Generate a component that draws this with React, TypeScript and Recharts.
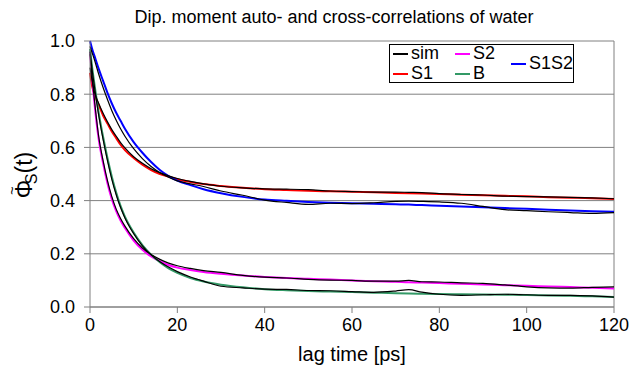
import { LineChart, Line, XAxis, YAxis, CartesianGrid, ReferenceLine, Label } from "recharts";

const lagTime = [0, 0.5, 1, 2, 3, 4, 5, 6, 7, 8, 10, 12, 14, 16, 18, 20, 23, 26, 30, 35, 40, 45, 50, 55, 60, 65, 70, 73, 76, 80, 85, 90, 95, 100, 105, 110, 115, 120];

const s1 = [0.88, 0.83, 0.8, 0.76, 0.72, 0.69, 0.66, 0.635, 0.61, 0.59, 0.56, 0.535, 0.515, 0.5, 0.49, 0.48, 0.47, 0.462, 0.455, 0.448, 0.443, 0.44, 0.437, 0.435, 0.433, 0.431, 0.429, 0.428, 0.427, 0.425, 0.422, 0.42, 0.418, 0.416, 0.413, 0.411, 0.409, 0.406];
const s1s2 = [1.0, 0.97, 0.945, 0.895, 0.85, 0.805, 0.765, 0.73, 0.7, 0.67, 0.62, 0.58, 0.545, 0.515, 0.492, 0.475, 0.458, 0.443, 0.428, 0.414, 0.404, 0.399, 0.395, 0.392, 0.39, 0.388, 0.386, 0.385, 0.383, 0.381, 0.378, 0.375, 0.372, 0.369, 0.366, 0.363, 0.36, 0.358];
const s2 = [0.96, 0.86, 0.77, 0.63, 0.54, 0.465, 0.405, 0.36, 0.325, 0.297, 0.25, 0.215, 0.19, 0.172, 0.158, 0.148, 0.139, 0.132, 0.125, 0.118, 0.113, 0.109, 0.106, 0.103, 0.1, 0.097, 0.095, 0.093, 0.092, 0.09, 0.087, 0.085, 0.082, 0.08, 0.077, 0.075, 0.072, 0.07];
const b = [0.97, 0.9, 0.84, 0.73, 0.64, 0.56, 0.49, 0.43, 0.38, 0.34, 0.28, 0.233, 0.197, 0.168, 0.145, 0.128, 0.109, 0.096, 0.084, 0.074, 0.067, 0.063, 0.06, 0.058, 0.056, 0.054, 0.052, 0.051, 0.05, 0.049, 0.048, 0.047, 0.046, 0.045, 0.043, 0.042, 0.04, 0.038];

// simulated curves (black), one per model curve
const simS1 = [0.9, 0.85, 0.81, 0.765, 0.728, 0.696, 0.667, 0.642, 0.618, 0.598, 0.565, 0.54, 0.52, 0.505, 0.493, 0.483, 0.472, 0.463, 0.454, 0.448, 0.444, 0.443, 0.441, 0.436, 0.434, 0.432, 0.432, 0.431, 0.43, 0.426, 0.423, 0.421, 0.417, 0.415, 0.414, 0.412, 0.41, 0.407];
const simS1S2 = [0.98, 0.955, 0.93, 0.875, 0.825, 0.78, 0.738, 0.702, 0.67, 0.642, 0.595, 0.558, 0.528, 0.505, 0.488, 0.474, 0.463, 0.453, 0.436, 0.42, 0.402, 0.393, 0.386, 0.39, 0.389, 0.392, 0.397, 0.398, 0.397, 0.395, 0.39, 0.378, 0.366, 0.362, 0.358, 0.355, 0.352, 0.355];
const simS2 = [0.95, 0.86, 0.78, 0.64, 0.55, 0.475, 0.415, 0.368, 0.333, 0.304, 0.257, 0.222, 0.197, 0.179, 0.165, 0.155, 0.145, 0.137, 0.13, 0.119, 0.112, 0.109, 0.104, 0.101, 0.1, 0.097, 0.097, 0.1, 0.095, 0.094, 0.091, 0.089, 0.083, 0.076, 0.072, 0.071, 0.074, 0.076];
const simB = [0.96, 0.89, 0.83, 0.72, 0.63, 0.55, 0.48, 0.422, 0.374, 0.335, 0.276, 0.23, 0.196, 0.17, 0.15, 0.133, 0.113, 0.097, 0.078, 0.072, 0.067, 0.066, 0.062, 0.061, 0.058, 0.055, 0.06, 0.065, 0.056, 0.048, 0.044, 0.046, 0.048, 0.046, 0.044, 0.044, 0.042, 0.037];

const xTicks = [0, 20, 40, 60, 80, 100, 120];
const yTicks = [0, 0.2, 0.4, 0.6, 0.8, 1.0];

const data = lagTime.map((t, i) => ({
  t,
  s1: s1[i],
  s1s2: s1s2[i],
  s2: s2[i],
  b: b[i],
  simS1: simS1[i],
  simS1S2: simS1S2[i],
  simS2: simS2[i],
  simB: simB[i],
}));

const FONT = '"Liberation Sans", Arial, sans-serif';
const GRID = "#808080";

function LegendItem({ color, label }: { color: string; label: string }) {
  return (
    <div style={{ display: "flex", alignItems: "center", height: 20 }}>
      <div style={{ width: 15, height: 2, background: color, marginRight: 3 }} />
      <span>{label}</span>
    </div>
  );
}

function YLabel() {
  return (
    <text transform="translate(32,175) rotate(-90)" textAnchor="middle" fontSize={23} fill="#000" fontFamily={FONT}>
      {"\u03A6"}
      <tspan fontSize={15} dx={-15} dy={-15}>~</tspan>
      <tspan fontSize={16} dx={2} dy={20}>S</tspan>
      <tspan dy={-5}>(t)</tspan>
    </text>
  );
}

export default function App() {
  return (
    <div style={{ position: "absolute", left: 0, top: 0, width: 632, height: 377, background: "#fff", fontFamily: FONT }}>
      <div style={{ position: "absolute", left: 34, top: 7, width: 600, textAlign: "center", fontSize: 18, color: "#000" }}>
        Dip. moment auto- and cross-correlations of water
      </div>
      <LineChart width={632} height={377} data={data} margin={{ top: 41, right: 18, bottom: 40, left: 0 }}>
        <CartesianGrid vertical={false} stroke={GRID} strokeWidth={1} />
        <XAxis
          dataKey="t"
          type="number"
          domain={[0, 120]}
          ticks={xTicks}
          height={30}
          tick={{ fill: "#000", fontSize: 18, fontFamily: FONT }}
          tickSize={6}
          tickMargin={5}
          axisLine={{ stroke: GRID }}
          tickLine={{ stroke: GRID }}
        />
        <YAxis
          type="number"
          domain={[0, 1]}
          ticks={yTicks}
          width={90}
          tickFormatter={(v: number) => v.toFixed(1)}
          tick={{ fill: "#000", fontSize: 18, fontFamily: FONT }}
          tickSize={6}
          tickMargin={9}
          axisLine={{ stroke: GRID }}
          tickLine={{ stroke: GRID }}
        >
          <Label content={<YLabel />} />
        </YAxis>
        <ReferenceLine x={120} stroke={GRID} />
        <Line dataKey="s1" stroke="#ff0000" strokeWidth={2} dot={false} type="monotone" isAnimationActive={false} />
        <Line dataKey="s1s2" stroke="#0000ff" strokeWidth={2} dot={false} type="monotone" isAnimationActive={false} />
        <Line dataKey="s2" stroke="#ff00ff" strokeWidth={2} dot={false} type="monotone" isAnimationActive={false} />
        <Line dataKey="b" stroke="#339966" strokeWidth={2} dot={false} type="monotone" isAnimationActive={false} />
        <Line dataKey="simS1" stroke="#000" strokeWidth={1.2} dot={false} type="monotone" isAnimationActive={false} />
        <Line dataKey="simS1S2" stroke="#000" strokeWidth={1.2} dot={false} type="monotone" isAnimationActive={false} />
        <Line dataKey="simS2" stroke="#000" strokeWidth={1.2} dot={false} type="monotone" isAnimationActive={false} />
        <Line dataKey="simB" stroke="#000" strokeWidth={1.2} dot={false} type="monotone" isAnimationActive={false} />
      </LineChart>
      <div style={{ position: "absolute", left: 252, top: 343, width: 200, textAlign: "center", fontSize: 20, color: "#000" }}>
        lag time [ps]
      </div>
      <div
        style={{
          position: "absolute",
          left: 389,
          top: 44,
          width: 185,
          height: 39,
          border: "1px solid #000",
          background: "#fff",
          fontSize: 18,
          color: "#000",
          display: "flex",
          alignItems: "center",
          paddingLeft: 3,
          boxSizing: "border-box",
        }}
      >
        <div style={{ width: 62 }}>
          <LegendItem color="#000" label="sim" />
          <LegendItem color="#ff0000" label="S1" />
        </div>
        <div style={{ width: 56 }}>
          <LegendItem color="#ff00ff" label="S2" />
          <LegendItem color="#339966" label="B" />
        </div>
        <div>
          <LegendItem color="#0000ff" label="S1S2" />
        </div>
      </div>
    </div>
  );
}
